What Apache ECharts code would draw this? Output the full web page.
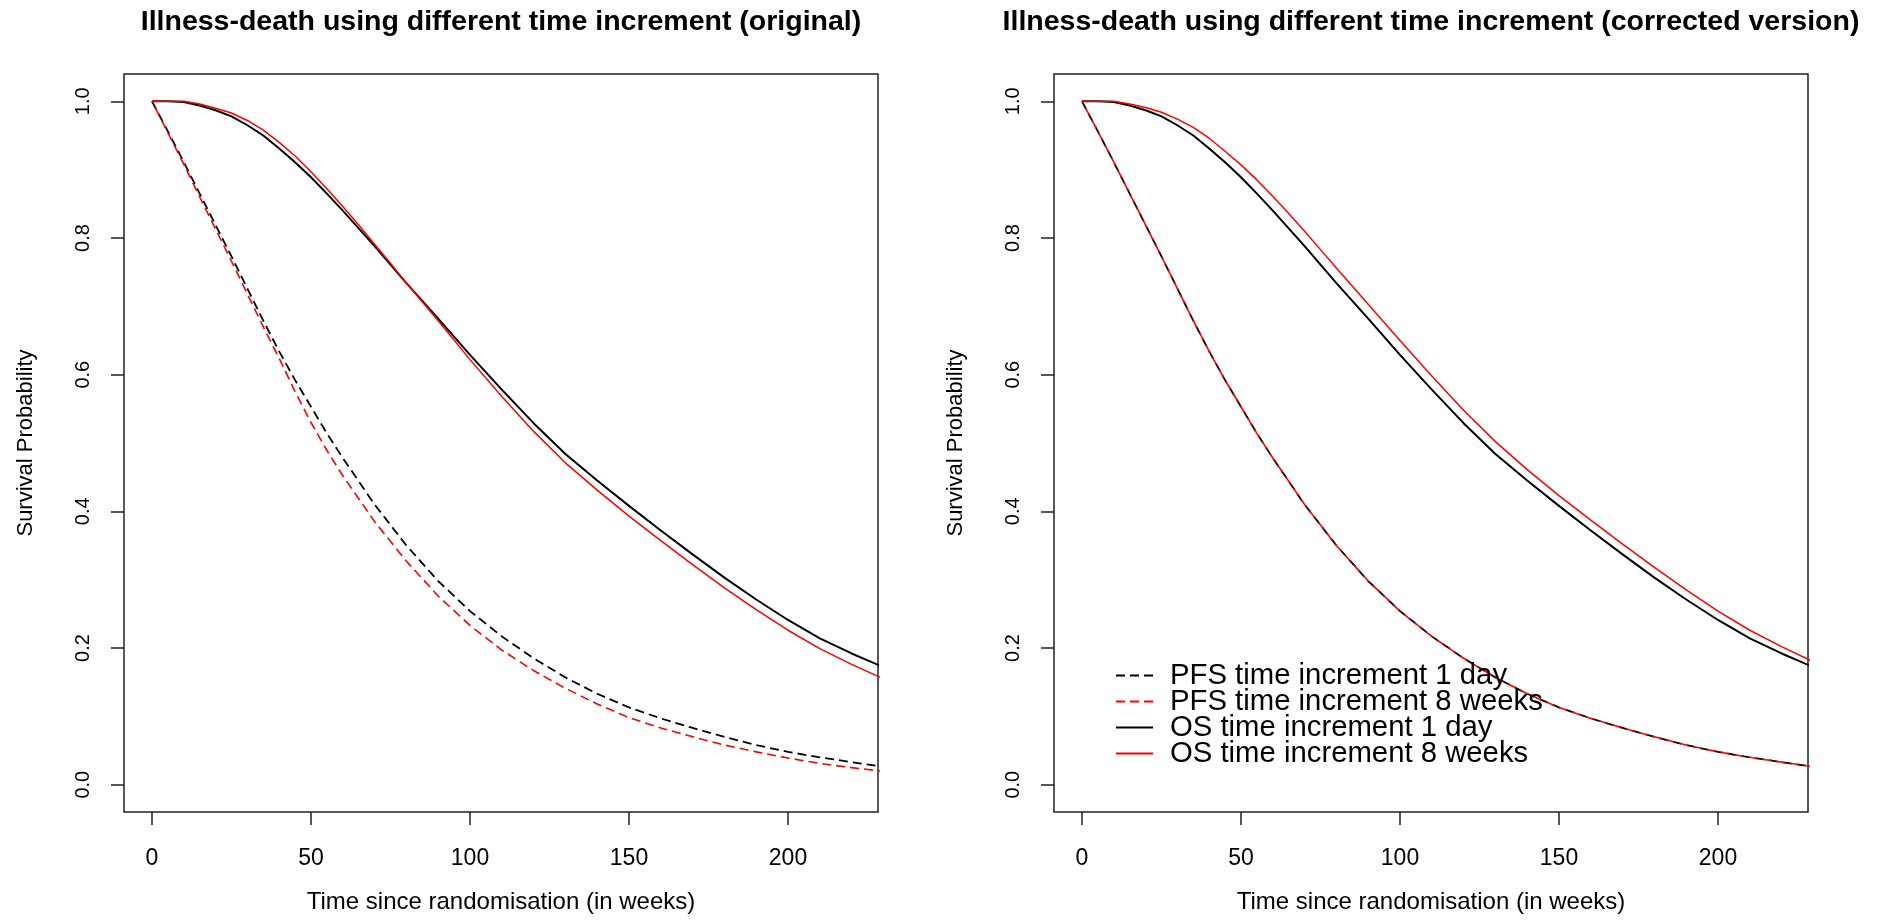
<!DOCTYPE html>
<html><head><meta charset="utf-8">
<script src="https://cdn.jsdelivr.net/npm/echarts@6/dist/echarts.min.js"></script>
<style>html,body{margin:0;padding:0;background:#fff}#c{width:1884px;height:920px}</style>
</head><body><div id="c"></div>
<script>
const panelTitles = [
  'Illness-death using different time increment (original)',
  'Illness-death using different time increment (corrected version)'
];
const seriesNames = ['PFS time increment 1 day', 'PFS time increment 8 weeks', 'OS time increment 1 day', 'OS time increment 8 weeks'];
const xTitle = 'Time since randomisation (in weeks)';
const yTitle = 'Survival Probability';
const xTicks = [0, 50, 100, 150, 200];
const yTicks = [0, 0.2, 0.4, 0.6, 0.8, 1.0];

const pfsWeeks = [0, 5, 10, 15, 20, 25, 30, 35, 40, 45, 50, 55, 60, 70, 80, 90, 100, 110, 120, 130, 140, 150, 160, 170, 180, 190, 200, 210, 220, 229];
const osWeeks  = [0, 5, 10, 15, 20, 25, 30, 35, 40, 45, 50, 55, 60, 65, 70, 75, 80, 90, 100, 110, 120, 130, 140, 150, 160, 170, 180, 190, 200, 210, 220, 229];

// left panel (original)
const leftPfs1d = [1.0, 0.956, 0.911, 0.865, 0.819, 0.773, 0.726, 0.679, 0.634, 0.592, 0.553, 0.514, 0.478, 0.410, 0.350, 0.298, 0.254, 0.217, 0.185, 0.157, 0.133, 0.113, 0.097, 0.083, 0.070, 0.058, 0.048, 0.040, 0.033, 0.027];
const leftPfs8w = [1.0, 0.954, 0.908, 0.860, 0.813, 0.766, 0.718, 0.670, 0.624, 0.575, 0.530, 0.489, 0.452, 0.385, 0.327, 0.276, 0.233, 0.197, 0.167, 0.141, 0.118, 0.098, 0.083, 0.070, 0.058, 0.048, 0.039, 0.031, 0.025, 0.020];
const leftOs1d  = [1.0, 1.0, 0.999, 0.994, 0.987, 0.978, 0.965, 0.950, 0.931, 0.911, 0.889, 0.865, 0.840, 0.814, 0.788, 0.761, 0.734, 0.682, 0.629, 0.578, 0.529, 0.484, 0.445, 0.408, 0.372, 0.337, 0.303, 0.271, 0.241, 0.214, 0.192, 0.174];
const leftOs8w  = [1.0, 1.0, 1.0, 0.996, 0.990, 0.983, 0.972, 0.958, 0.940, 0.920, 0.897, 0.872, 0.846, 0.819, 0.791, 0.763, 0.734, 0.679, 0.622, 0.568, 0.517, 0.471, 0.431, 0.393, 0.357, 0.322, 0.288, 0.256, 0.226, 0.199, 0.176, 0.157];

// right panel (corrected version)
const rightPfs1d = [1.0, 0.956, 0.911, 0.865, 0.819, 0.773, 0.726, 0.679, 0.634, 0.592, 0.553, 0.514, 0.478, 0.410, 0.350, 0.298, 0.254, 0.217, 0.185, 0.157, 0.133, 0.113, 0.097, 0.083, 0.070, 0.058, 0.048, 0.040, 0.033, 0.027];
const rightPfs8w = [1.0, 0.956, 0.911, 0.865, 0.819, 0.773, 0.726, 0.679, 0.634, 0.592, 0.553, 0.514, 0.478, 0.410, 0.350, 0.298, 0.254, 0.217, 0.185, 0.157, 0.133, 0.113, 0.097, 0.083, 0.070, 0.058, 0.048, 0.040, 0.033, 0.027];
const rightOs1d  = [1.0, 1.0, 0.999, 0.994, 0.987, 0.978, 0.965, 0.950, 0.931, 0.911, 0.889, 0.865, 0.840, 0.814, 0.788, 0.761, 0.734, 0.682, 0.629, 0.578, 0.529, 0.484, 0.445, 0.408, 0.372, 0.337, 0.303, 0.271, 0.241, 0.214, 0.192, 0.174];
const rightOs8w  = [1.0, 1.0, 1.0, 0.996, 0.991, 0.984, 0.974, 0.962, 0.946, 0.927, 0.907, 0.885, 0.861, 0.836, 0.810, 0.783, 0.756, 0.703, 0.650, 0.598, 0.548, 0.502, 0.461, 0.423, 0.387, 0.352, 0.318, 0.285, 0.254, 0.226, 0.202, 0.182];

const FONT = 'Liberation Sans, Arial, Helvetica, sans-serif';
const BOX = '#222';

function zip(xs, ys) { return xs.map((x, i) => [x, ys[i]]); }

const grids = [
  { left: 124, top: 74, width: 754, height: 738 },
  { left: 1054, top: 74, width: 754, height: 738 }
].map(g => Object.assign(g, { show: true, borderColor: BOX, borderWidth: 1.5, backgroundColor: 'transparent', containLabel: false }));

const xAxes = [0, 1].map(i => ({
  type: 'value', gridIndex: i, min: -8.8, max: 228.3, position: 'bottom',
  axisLine: { show: false, onZero: false }, splitLine: { show: false },
  axisTick: { show: true, inside: false, length: 13, customValues: xTicks, lineStyle: { color: BOX, width: 1.5 } },
  axisLabel: { customValues: xTicks, fontSize: 23, margin: 35, color: '#000', fontFamily: FONT },
  name: xTitle, nameLocation: 'middle', nameGap: 78,
  nameTextStyle: { fontSize: 24, color: '#000', fontFamily: FONT }
}));

const yAxes = [0, 1].map(i => ({
  type: 'value', gridIndex: i, min: -0.04, max: 1.04, position: 'left',
  axisLine: { show: false, onZero: false }, splitLine: { show: false },
  axisTick: { show: true, inside: false, length: 13, customValues: yTicks, lineStyle: { color: BOX, width: 1.5 } },
  axisLabel: { customValues: yTicks, fontSize: 20, margin: 31, rotate: 90, color: '#000', fontFamily: FONT,
    formatter: v => Number(v).toFixed(1) },
  name: yTitle, nameLocation: 'middle', nameGap: 87,
  nameTextStyle: { fontSize: 22, color: '#000', fontFamily: FONT }
}));

function mk(name, idx, weeks, vals, color, dashed, width, offset) {
  return {
    name, type: 'line', xAxisIndex: idx, yAxisIndex: idx,
    data: zip(weeks, vals), symbol: 'none', showSymbol: false, smooth: false,
    clip: true, silent: true,
    itemStyle: { color },
    lineStyle: { color, width, type: dashed ? [9, 5] : 'solid', dashOffset: offset || 0, join: 'round' },
    emphasis: { disabled: true }
  };
}

const series = [];
[[0, leftPfs1d, leftPfs8w, leftOs1d, leftOs8w], [1, rightPfs1d, rightPfs8w, rightOs1d, rightOs8w]].forEach(([i, p1, p8, o1, o8]) => {
  series.push(mk(seriesNames[0], i, pfsWeeks, p1, '#000000', true, 1.8, 0));
  series.push(mk(seriesNames[1], i, pfsWeeks, p8, '#ff0000', true, 1.6, 7));
  series.push(mk(seriesNames[2], i, osWeeks, o1, '#000000', false, 2, 0));
  series.push(mk(seriesNames[3], i, osWeeks, o8, '#ff0000', false, 1.5, 0));
});

const chart = echarts.init(document.getElementById('c'), null, { renderer: 'canvas' });
chart.setOption({
  animation: false,
  backgroundColor: '#fff',
  textStyle: { fontFamily: FONT },
  title: panelTitles.map((t, i) => ({
    text: t, left: i === 0 ? 501 : 1431, top: 8, textAlign: 'center', padding: 0,
    textStyle: { fontSize: 28.5, fontWeight: 'bold', color: '#000', fontFamily: FONT }
  })),
  legend: {
    data: seriesNames, orient: 'vertical', left: 1115, top: 661, padding: 0,
    itemWidth: 37, itemHeight: 14, itemGap: -3, selectedMode: false,
    itemStyle: { opacity: 0, borderWidth: 0 },
    lineStyle: { dashOffset: 0 },
    textStyle: { fontSize: 29.3, lineHeight: 25, color: '#000', fontFamily: FONT, padding: [0, 0, 0, 12] }
  },
  grid: grids, xAxis: xAxes, yAxis: yAxes, series
});
</script></body></html>
